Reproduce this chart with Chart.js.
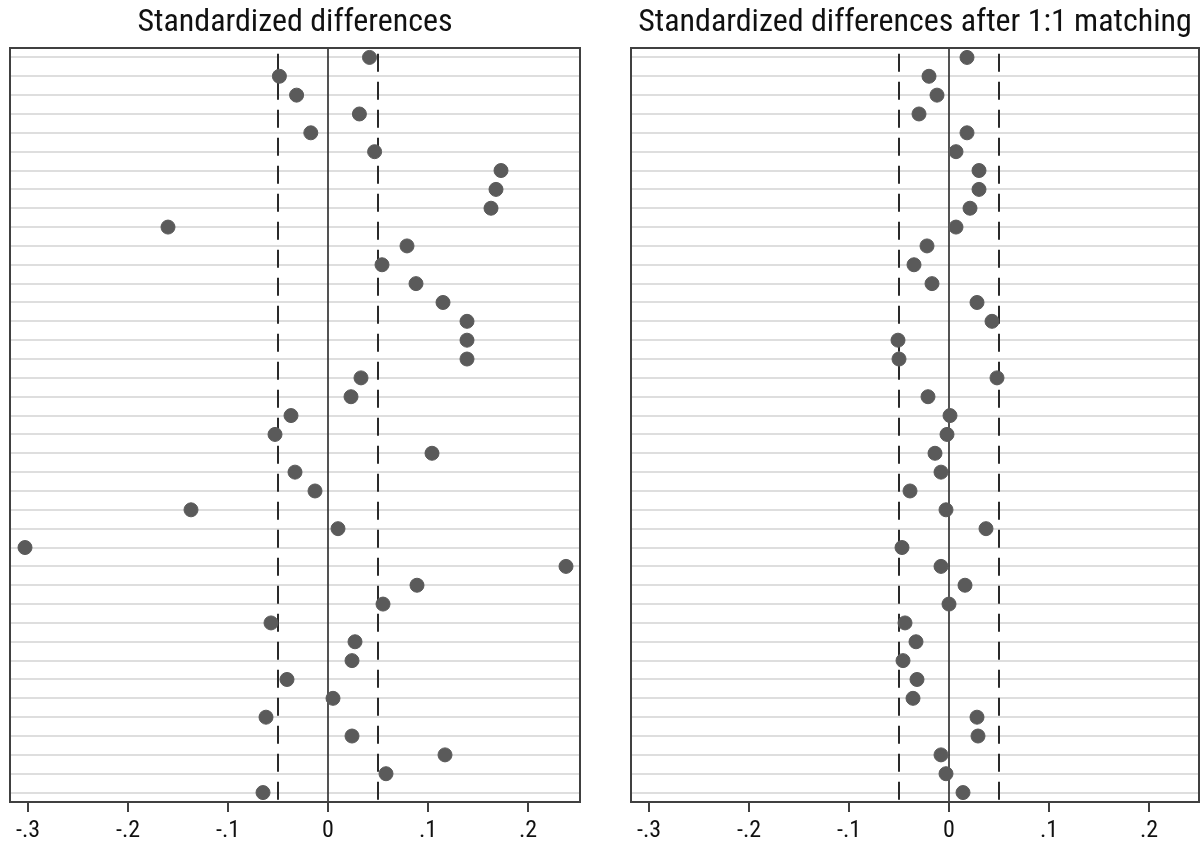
<!DOCTYPE html>
<html><head><meta charset="utf-8">
<script src="https://cdn.jsdelivr.net/npm/chart.js@4/dist/chart.umd.min.js"></script>
<style>
html,body{margin:0;padding:0;background:#fff;width:1201px;height:844px;overflow:hidden}
canvas{position:absolute;top:0}
</style></head><body>
<canvas id="c1" width="600" height="844" style="left:0;width:600px;height:844px"></canvas>
<canvas id="c2" width="601" height="844" style="left:600px;width:601px;height:844px"></canvas>
<script>
const rows = Array.from({length:40},(_, i)=>i+1);
const beforeMatching = [0.0415,-0.0486,-0.0314,0.0314,-0.0172,0.0466,0.173,0.168,0.163,-0.160,
  0.079,0.054,0.088,0.115,0.139,0.139,0.139,0.033,0.023,-0.037,
  -0.053,0.104,-0.033,-0.013,-0.137,0.010,-0.303,0.238,0.089,0.055,
  -0.057,0.027,0.024,-0.041,0.005,-0.062,0.024,0.117,0.058,-0.065];
const afterMatching = [0.018,-0.020,-0.012,-0.030,0.018,0.007,0.030,0.030,0.021,0.007,
  -0.022,-0.035,-0.017,0.028,0.043,-0.051,-0.050,0.048,-0.021,0.001,
  -0.002,-0.014,-0.008,-0.039,-0.003,0.037,-0.047,-0.008,0.016,0.000,
  -0.044,-0.033,-0.046,-0.032,-0.036,0.028,0.029,-0.008,-0.003,0.014];
const tickValues = [-0.3,-0.2,-0.1,0,0.1,0.2];
const refLines = [-0.05, 0.05];
const titles = ['Standardized differences','Standardized differences after 1:1 matching'];

const FONT = "'Roboto Condensed','Liberation Sans',sans-serif";
function fmt(v){ if (Math.abs(v)<1e-9) return '0'; let s=v.toFixed(1); return s.replace(/^(-?)0\./,'$1.'); }

const framePlugin = {
  id:'frame',
  afterDatasetsDraw(chart){
    const a=chart.chartArea, ctx=chart.ctx;
    ctx.save(); ctx.strokeStyle='#404040'; ctx.lineWidth=2;
    ctx.strokeRect(a.left,a.top,a.right-a.left,a.bottom-a.top);
    ctx.restore();
  }
};

function make(id, values, title, pad){
  const pts = values.map((v,i)=>({x:v,y:rows[i]}));
  const datasets = [
    {type:'line',data:[{x:0,y:0.5},{x:0,y:40.5}],borderColor:'#2a2a2a',borderWidth:1.6,pointRadius:0,order:2},
    ...refLines.map(r=>({type:'line',data:[{x:r,y:0.8},{x:r,y:40.5}],borderColor:'#2a2a2a',borderWidth:2,borderDash:[18,10],pointRadius:0,order:2})),
    {type:'scatter',data:pts,backgroundColor:'#5a5a5a',borderColor:'#5a5a5a',pointRadius:7,pointHoverRadius:7,order:1}
  ];
  new Chart(document.getElementById(id),{
    type:'scatter',
    data:{datasets},
    plugins:[framePlugin],
    options:{
      responsive:false, animation:false, devicePixelRatio:1,
      layout:{autoPadding:false,padding:{left:pad.left,right:pad.right,top:0,bottom:1}},
      plugins:{legend:{display:false},tooltip:{enabled:false},
        title:{display:true,text:title,color:'#111',font:{family:FONT,size:32,weight:'normal',lineHeight:1.2},padding:{top:4,bottom:5.6}}},
      scales:{
        x:{type:'linear',min:-0.318,max:pad.xmax,
          afterBuildTicks(s){ s.ticks = tickValues.map(v=>({value:v})); },
          afterFit(s){ s.paddingLeft = 0; s.paddingRight = 0; s.height = 41; },
          ticks:{callback:(v)=>fmt(v),color:'#111',font:{family:FONT,size:24,lineHeight:0.75},padding:10,maxRotation:0,autoSkip:false},
          grid:{drawOnChartArea:false,drawTicks:true,tickLength:10,color:'#404040',lineWidth:2},
          border:{display:false}},
        y:{type:'linear',min:0.5,max:40.5,reverse:true,
          afterBuildTicks(s){ s.ticks = rows.map(v=>({value:v})); },
          afterFit(s){ s.paddingTop = 0; s.paddingBottom = 0; },
          ticks:{display:false},
          grid:{drawTicks:false,color:'#dedede',lineWidth:2},
          border:{display:false}}
      }
    }
  });
}
make('c1', beforeMatching, titles[0], {left:10,right:20,xmax:0.252});
make('c2', afterMatching, titles[1], {left:31,right:2,xmax:0.250});
</script></body></html>
